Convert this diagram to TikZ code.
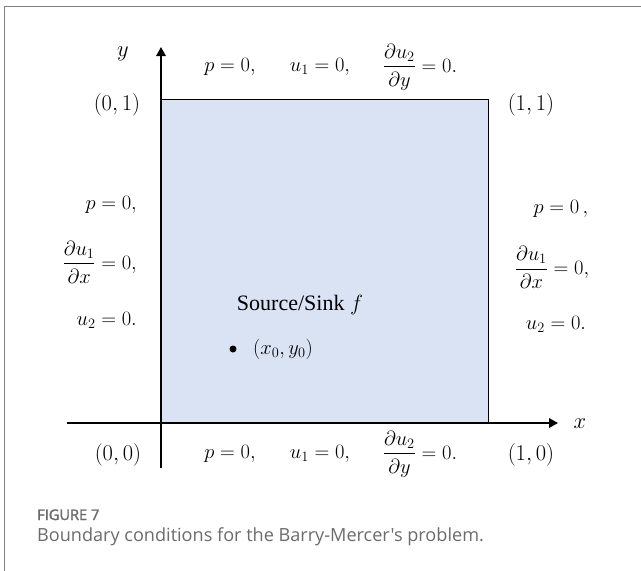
\RequirePackage{fix-cm}
\documentclass[tikz,border=0pt]{standalone}
\usepackage{amsmath}
\usepackage{fontspec}
\newfontfamily\capfont{Open Sans}
\newfontfamily\figfont{Open Sans}[FakeBold=2]
\newfontfamily\timesf{Liberation Serif}
\usetikzlibrary{arrows.meta}
\definecolor{domfill}{HTML}{DAE3F3}
\definecolor{framegray}{HTML}{808080}
\definecolor{capgray}{HTML}{6B6B6B}
\tikzset{
  axis/.style={line width=1.8pt, -{Triangle[length=9pt,width=9.5pt]}},
  eq/.style={inner sep=0pt, font=\fontsize{20.5}{24}\selectfont},
  crd/.style={inner sep=0pt, font=\fontsize{22.5}{27}\selectfont},
  captxt/.style={inner sep=0pt, anchor=base west, text=capgray},
}
\begin{document}
\begin{tikzpicture}[x=1pt,y=-1pt]
\useasboundingbox (0,0) rectangle (641,571);
% frame
\coordinate (fa) at (4.5,571);
\coordinate (fb) at (4.5,6.5);
\coordinate (fc) at (641,6.5);
\draw[framegray, line width=1.3pt] (fa) -- (fb) -- (fc);
% domain
\node[draw=black, fill=domfill, line width=1.4pt, minimum width=326.5pt, minimum height=324pt, inner sep=0pt, anchor=north west] (dom) at (161,99) {};
% axes
\coordinate (xs) at (67,423);
\coordinate (xe) at (558,423);
\coordinate (ys) at (161,468);
\coordinate (ye) at (161,47);
\draw[axis] (xs) -- (xe);
\draw[axis] (ys) -- (ye);
\node[crd] (xl) at (580,424) {$x$};
\node[crd] (yl) at (123,54) {$y$};
% corner coordinates
\node[crd] (c01) at (117,105) {$(0,1)$};
\node[crd] (c11) at (531,105) {$(1,1)$};
\node[crd] (c00) at (118,455) {$(0,0)$};
\node[crd] (c10) at (531,455) {$(1,0)$};
% top
\node[eq] (t1) at (230,67) {$p = 0,$};
\node[eq] (t2) at (320,67) {$u_1 = 0,$};
\node[eq] (t3) at (420,67) {$\dfrac{\partial u_2}{\partial y} = 0.$};
% bottom
\node[eq] (b1) at (230,454) {$p = 0,$};
\node[eq] (b2) at (320,454) {$u_1 = 0,$};
\node[eq] (b3) at (420,454) {$\dfrac{\partial u_2}{\partial y} = 0.$};
% left
\node[eq, anchor=east] (l1) at (137,205) {$p = 0,$};
\node[eq, anchor=east] (l2) at (137,262) {$\dfrac{\partial u_1}{\partial x} = 0,$};
\node[eq, anchor=east] (l3) at (137,320) {$u_2 = 0.$};
% right
\node[eq] (r1) at (561,209) {$p = 0\,,$};
\node[eq] (r2) at (552,267.5) {$\dfrac{\partial u_1}{\partial x} = 0,$};
\node[eq] (r3) at (556,324) {$u_2 = 0.$};
% source
\node[inner sep=0pt, font=\fontsize{22}{26}\selectfont] (src) at (300,305) {\timesf Source/Sink $f$};
\node[circle, fill=black, inner sep=0pt, minimum size=7pt] (pt) at (233,349) {};
\node[eq] (ptl) at (283,349) {$(x_0,y_0)$};
% caption
\node[captxt, font=\figfont\fontsize{14.6}{18}\selectfont] (fig) at (37,520) {FIGURE 7};
\node[captxt, font=\capfont\fontsize{18.1}{21}\selectfont] (capt) at (37,541.5) {Boundary conditions for the Barry-Mercer's problem.};
\end{tikzpicture}
\end{document}
